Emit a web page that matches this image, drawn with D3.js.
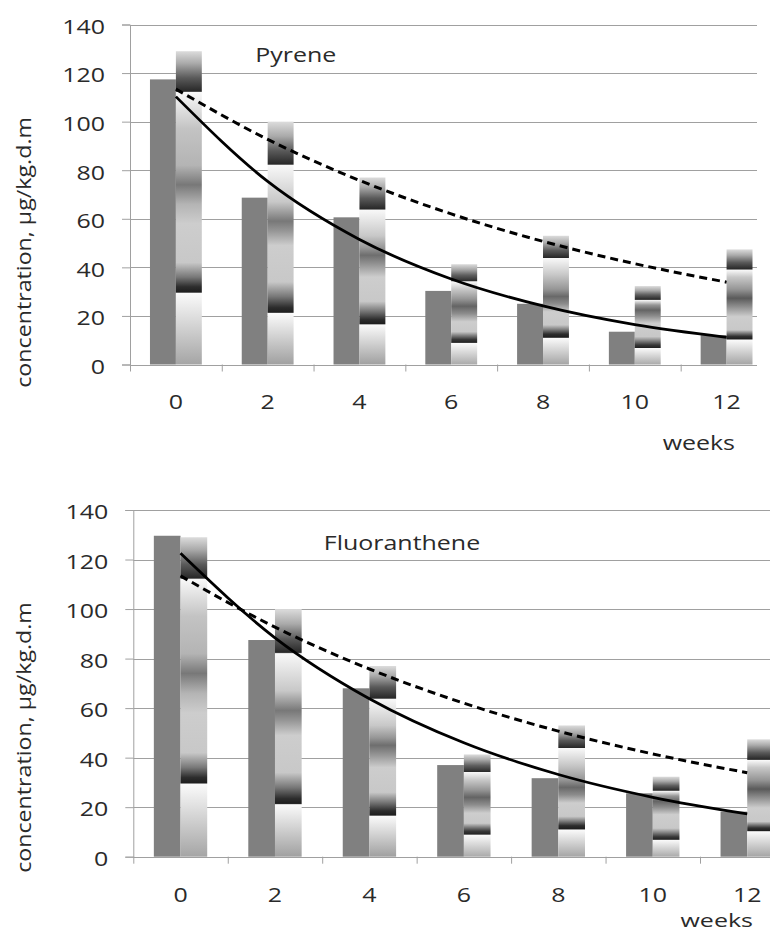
<!DOCTYPE html>
<html><head><meta charset="utf-8">
<script src="https://cdn.jsdelivr.net/npm/d3@7"></script>
<style>
body{margin:0;background:#fff}
text{font-family:'Open Sans',sans-serif;fill:#2a2a2a;font-size:19.5px}
</style>
</head><body>
<svg id="c" width="770" height="932"></svg>
<script>
// ---- data ----
const weeks = ["0","2","4","6","8","10","12"];
const yTicks = [0,20,40,60,80,100,120,140];
const pyreneMeasured = [117.4, 68.7, 60.6, 30.3, 25.0, 13.5, 12.1];
const fluorMeasured  = [129.6, 87.5, 68.0, 37.0, 31.7, 25.6, 18.2];
const laneTops       = [129, 100, 77, 41.3, 53, 32.3, 47.4];
const dashedModel    = [113.4, 92.7, 75.8, 62.0, 50.7, 41.5, 33.9];
const pyreneModel    = [110.3, 75.4, 51.5, 35.2, 24.1, 16.4, 11.2];
const fluorModel     = [122.5, 88.4, 63.8, 46.0, 33.2, 24.0, 17.3];
// lane image bands: [value, grey level] from bottom to top
const laneBands = [
  [[0,165],[29.3,250],[29.8,30],[32,45],[36,120],[42,200],[58,205],[66,180],[74,120],[82,180],[97,195],[112,248],[112.5,40],[118,90],[124,170],[129,220]],
  [[0,160],[21,250],[21.5,30],[23.5,45],[28,120],[34,200],[49,205],[55,150],[59,120],[63,160],[67,200],[82,248],[82.5,40],[88,90],[94,170],[100,220]],
  [[0,160],[16.3,250],[16.8,30],[18.5,45],[22,120],[26,200],[36,205],[42,140],[45,110],[48,150],[53,200],[63.6,248],[64,40],[68.5,90],[73,170],[77,220]],
  [[0,170],[8.7,250],[9.1,35],[10.3,55],[12,130],[13.5,200],[17.6,205],[21,140],[24,100],[27,150],[31,200],[34.1,248],[34.4,45],[36.8,95],[39.2,170],[41.3,220]],
  [[0,165],[10.8,250],[11.2,30],[12.5,45],[14.5,130],[16.3,200],[21.7,205],[25,140],[28,105],[31,150],[37,200],[43.7,248],[44,40],[47,90],[50,170],[53,220]],
  [[0,170],[6.7,250],[7,35],[8,55],[10,140],[11.5,200],[17,205],[20,140],[22.4,100],[24.5,150],[26.5,248],[26.8,40],[28.7,95],[30.5,170],[32.3,220]],
  [[0,165],[10.1,250],[10.5,30],[11.6,50],[13,130],[14.2,200],[19.7,205],[24,140],[27.3,90],[31,150],[36,200],[38.9,248],[39.3,40],[42,90],[45,170],[47.4,220]]
];

const charts = [
  {title:"Pyrene", measured:pyreneMeasured, model:pyreneModel,
   left:130, y0:364.5, yTop:24.5, step:91.78, right:757,
   titleX:295.7, titleY:62, weeksX:698.8, weeksY:450, weeksSize:19.5, labelY:252.4},
  {title:"Fluoranthene", measured:fluorMeasured, model:fluorModel,
   left:133.3, y0:856.7, yTop:510, step:94.45, right:770,
   titleX:402, titleY:549.5, weeksX:716.7, weeksY:926.5, weeksSize:17.5, labelY:737.5}
];

const SX = 1.28; // horizontal glyph stretch
const gridCol = "#a0a0a0";
const svg = d3.select("#c");

// gradients for the lane images
const defs = svg.append("defs");
laneBands.forEach((bands, i) => {
  const g = defs.append("linearGradient").attr("id","lane"+i)
    .attr("x1",0).attr("y1",1).attr("x2",0).attr("y2",0);
  bands.forEach(([v,c]) => {
    g.append("stop").attr("offset", Math.min(1, v/laneTops[i]))
      .attr("stop-color", d3.rgb(c,c,c).formatHex());
  });
});

charts.forEach(ch => {
  const g = svg.append("g");
  const x = d3.scaleBand().domain(weeks).range([ch.left, ch.left + 7*ch.step]);
  const xEdge = d3.scaleLinear().domain([0,7]).range([ch.left, ch.left + 7*ch.step]);
  const inner = d3.scaleBand().domain(["m","l"]).range([0, x.bandwidth()]).paddingOuter(0.77).paddingInner(0);
  const y = d3.scaleLinear().domain([0,140]).range([ch.y0, ch.yTop]);

  // gridlines
  g.append("g").selectAll("line").data(yTicks).join("line")
    .attr("x1", ch.left).attr("x2", ch.right)
    .attr("y1", d => Math.round(y(d))+0.5).attr("y2", d => Math.round(y(d))+0.5)
    .attr("stroke", gridCol).attr("stroke-width",1);

  // y axis
  const ya = g.append("g").attr("transform",`translate(${ch.left},0)`)
    .call(d3.axisLeft(y).tickValues(yTicks).tickSize(8));
  ya.select(".domain").attr("stroke", gridCol);
  ya.selectAll(".tick line").attr("stroke", gridCol);
  ya.selectAll(".tick text").attr("x", -25/SX).attr("dy","0.45em")
    .attr("transform",`scale(${SX},1)`).attr("font-family",null).attr("font-size",null).attr("fill",null);

  // x boundary ticks
  const xe = g.append("g").attr("transform",`translate(0,${ch.y0})`)
    .call(d3.axisBottom(xEdge).tickValues(d3.range(0,7)).tickSize(7).tickFormat(""));
  xe.select(".domain").remove();
  xe.selectAll(".tick line").attr("stroke", gridCol);

  // x labels
  const xl = g.append("g").attr("transform",`translate(0,${ch.y0})`)
    .call(d3.axisBottom(x).tickSize(0).tickPadding(31));
  xl.select(".domain").remove();
  xl.selectAll(".tick text").attr("transform",`scale(${SX},1)`)
    .attr("font-family",null).attr("font-size",null).attr("fill",null);

  // measured bars
  g.append("g").selectAll("rect").data(ch.measured).join("rect")
    .attr("x", (d,i) => x(weeks[i]) + inner("m"))
    .attr("width", inner.bandwidth())
    .attr("y", d => y(d)).attr("height", d => y(0) - y(d))
    .attr("fill", "#808080");

  // lane images
  g.append("g").selectAll("rect").data(laneTops).join("rect")
    .attr("x", (d,i) => x(weeks[i]) + inner("l"))
    .attr("width", inner.bandwidth())
    .attr("y", d => y(d)).attr("height", d => y(0) - y(d))
    .attr("fill", (d,i) => `url(#lane${i})`);

  // model curves
  const line = d3.line()
    .x((d,i) => x(weeks[i]) + x.bandwidth()/2)
    .y(d => y(d))
    .curve(d3.curveMonotoneX);
  g.append("path").attr("d", line(dashedModel)).attr("fill","none")
    .attr("stroke","#000").attr("stroke-width",3).attr("stroke-dasharray","8,5");
  g.append("path").attr("d", line(ch.model)).attr("fill","none")
    .attr("stroke","#000").attr("stroke-width",2.8);

  // texts
  g.append("text").attr("transform",`translate(${ch.titleX},${ch.titleY}) scale(${SX},1)`)
    .attr("text-anchor","middle").text(ch.title);
  g.append("text").attr("transform",`translate(${ch.weeksX},${ch.weeksY}) scale(${SX*19.5/ch.weeksSize},1)`)
    .attr("text-anchor","middle").style("font-size", ch.weeksSize + "px").text("weeks");
  g.append("text").attr("transform",`translate(31,${ch.labelY}) rotate(-90) scale(${SX*0.93},1)`)
    .attr("text-anchor","middle").text("concentration, µg/kg.d.m");
});
</script>
</body></html>
